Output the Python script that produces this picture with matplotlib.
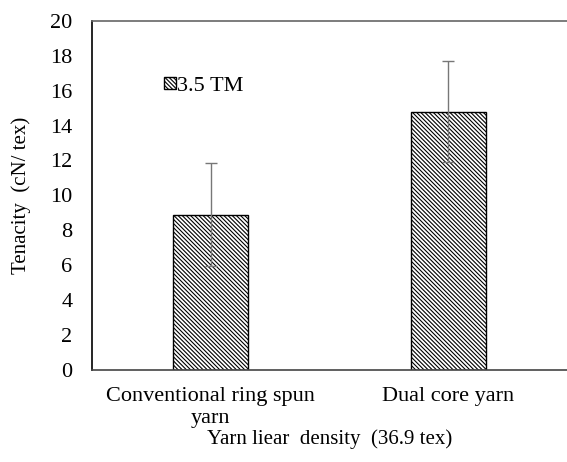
import matplotlib
matplotlib.use('Agg')
import matplotlib.pyplot as plt

# data
categories = ['Conventional ring spun\nyarn', 'Dual core yarn']
tenacity = [8.9, 14.8]
tenacity_err = [2.95, 2.9]
yticks = [0, 2, 4, 6, 8, 10, 12, 14, 16, 18, 20]

plt.rcParams['font.family'] = ['Liberation Serif', 'DejaVu Serif']
plt.rcParams['hatch.linewidth'] = 0.8

fig = plt.figure(figsize=(5.67, 4.62), dpi=100)
ax = fig.add_axes([0.162, 0.199, 0.838, 0.756])

x = list(range(len(categories)))
ax.bar(x, tenacity, width=0.315, color='white', edgecolor='black',
       linewidth=1.0, hatch='\\' * 8, label='3.5 TM', zorder=2)
ax.errorbar(x, tenacity, yerr=tenacity_err, fmt='none', ecolor='#777777',
            elinewidth=1.0, capsize=4, capthick=1.0, zorder=3)

ax.set_xlim(-0.5, 1.5)
ax.set_ylim(0, 20)
ax.set_yticks(yticks)
ax.set_xticks(x)
ax.set_xticklabels(categories, fontsize=16, linespacing=1.25)
ax.tick_params(axis='y', length=0, labelsize=16, pad=14)
ax.tick_params(axis='x', length=0, pad=12)

ax.set_ylabel('Tenacity  (cN/ tex)', fontsize=15, labelpad=14)
ax.set_xlabel('Yarn liear  density  (36.9 tex)', fontsize=15, labelpad=1)

ax.spines['right'].set_visible(False)
ax.spines['left'].set_color('black')
ax.spines['bottom'].set_color('#444444')
ax.spines['top'].set_color('#666666')
for s in ['left', 'bottom', 'top']:
    ax.spines[s].set_linewidth(1.2)

leg = ax.legend(loc='upper left', bbox_to_anchor=(0.128, 0.872), frameon=False,
                fontsize=16, handlelength=0.55, handleheight=0.5,
                handletextpad=0.05, borderpad=0)

fig.savefig('out.png', dpi=100)
